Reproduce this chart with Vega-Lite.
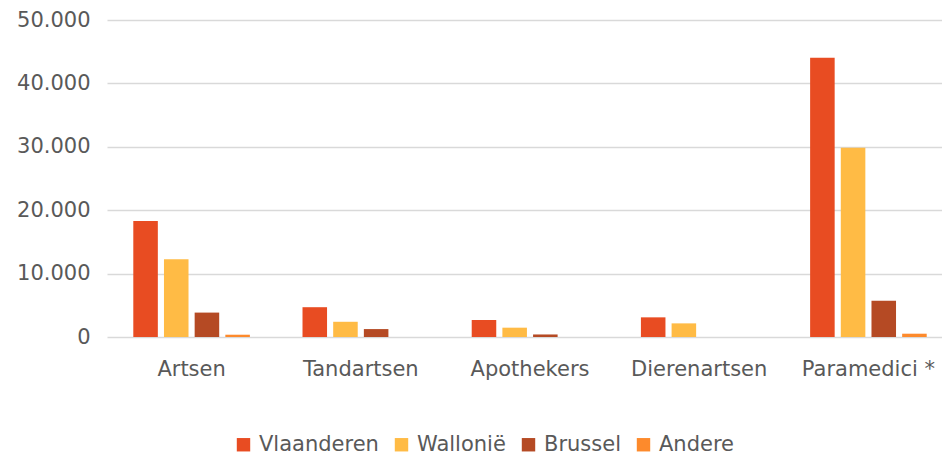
{
  "$schema": "https://vega.github.io/schema/vega-lite/v6.json",
  "width": 835,
  "height": 317,
  "autosize": {"type": "none"},
  "padding": {"left": 107, "top": 20, "right": 0, "bottom": 119},
  "background": "white",
  "config": {
    "view": {"stroke": null},
    "font": "DejaVu Sans"
  },
  "data": {
    "values": [
      {"beroep": "Artsen", "regio": "Vlaanderen", "aantal": 18300},
      {"beroep": "Artsen", "regio": "Wallonië", "aantal": 12250},
      {"beroep": "Artsen", "regio": "Brussel", "aantal": 3850},
      {"beroep": "Artsen", "regio": "Andere", "aantal": 360},
      {"beroep": "Tandartsen", "regio": "Vlaanderen", "aantal": 4700},
      {"beroep": "Tandartsen", "regio": "Wallonië", "aantal": 2400},
      {"beroep": "Tandartsen", "regio": "Brussel", "aantal": 1250},
      {"beroep": "Tandartsen", "regio": "Andere", "aantal": 0},
      {"beroep": "Apothekers", "regio": "Vlaanderen", "aantal": 2680},
      {"beroep": "Apothekers", "regio": "Wallonië", "aantal": 1470},
      {"beroep": "Apothekers", "regio": "Brussel", "aantal": 400},
      {"beroep": "Apothekers", "regio": "Andere", "aantal": 0},
      {"beroep": "Dierenartsen", "regio": "Vlaanderen", "aantal": 3100},
      {"beroep": "Dierenartsen", "regio": "Wallonië", "aantal": 2150},
      {"beroep": "Dierenartsen", "regio": "Brussel", "aantal": 0},
      {"beroep": "Dierenartsen", "regio": "Andere", "aantal": 0},
      {"beroep": "Paramedici *", "regio": "Vlaanderen", "aantal": 44050},
      {"beroep": "Paramedici *", "regio": "Wallonië", "aantal": 29850},
      {"beroep": "Paramedici *", "regio": "Brussel", "aantal": 5730},
      {"beroep": "Paramedici *", "regio": "Andere", "aantal": 520}
    ]
  },
  "mark": {"type": "bar"},
  "encoding": {
    "x": {
      "field": "beroep",
      "type": "nominal",
      "sort": ["Artsen", "Tandartsen", "Apothekers", "Dierenartsen", "Paramedici *"],
      "scale": {"range": [0, 846], "paddingInner": 0.311, "paddingOuter": 0.1554},
      "axis": {
        "title": null,
        "labelAngle": 0,
        "labelFontSize": 21,
        "labelFont": "DejaVu Sans",
        "labelColor": "#595959",
        "labelPadding": 21,
        "ticks": false,
        "domain": false,
        "grid": false
      }
    },
    "xOffset": {
      "field": "regio",
      "type": "nominal",
      "sort": ["Vlaanderen", "Wallonië", "Brussel", "Andere"],
      "scale": {"paddingInner": 0.2, "paddingOuter": 0}
    },
    "y": {
      "field": "aantal",
      "type": "quantitative",
      "scale": {"domain": [0, 50000], "nice": false},
      "axis": {
        "title": null,
        "values": [0, 10000, 20000, 30000, 40000, 50000],
        "labelExpr": "replace(format(datum.value, ','), ',', '.')",
        "labelFontSize": 21,
        "labelFont": "DejaVu Sans",
        "labelColor": "#595959",
        "labelPadding": 17,
        "ticks": false,
        "domain": false,
        "grid": true,
        "gridColor": "#d9d9d9",
        "gridWidth": 1.5
      }
    },
    "color": {
      "field": "regio",
      "type": "nominal",
      "scale": {
        "domain": ["Vlaanderen", "Wallonië", "Brussel", "Andere"],
        "range": ["#e84c22", "#ffbb45", "#b54a24", "#fd8a2c"]
      },
      "legend": {
        "title": null,
        "orient": "none",
        "legendX": 126,
        "legendY": 414,
        "direction": "horizontal",
        "columns": 4,
        "symbolType": "square",
        "symbolSize": 180,
        "symbolStrokeWidth": 0,
        "labelFontSize": 21,
        "labelFont": "DejaVu Sans",
        "labelColor": "#595959",
        "labelOffset": 5,
        "columnPadding": 12,
        "padding": 0
      }
    }
  }
}
